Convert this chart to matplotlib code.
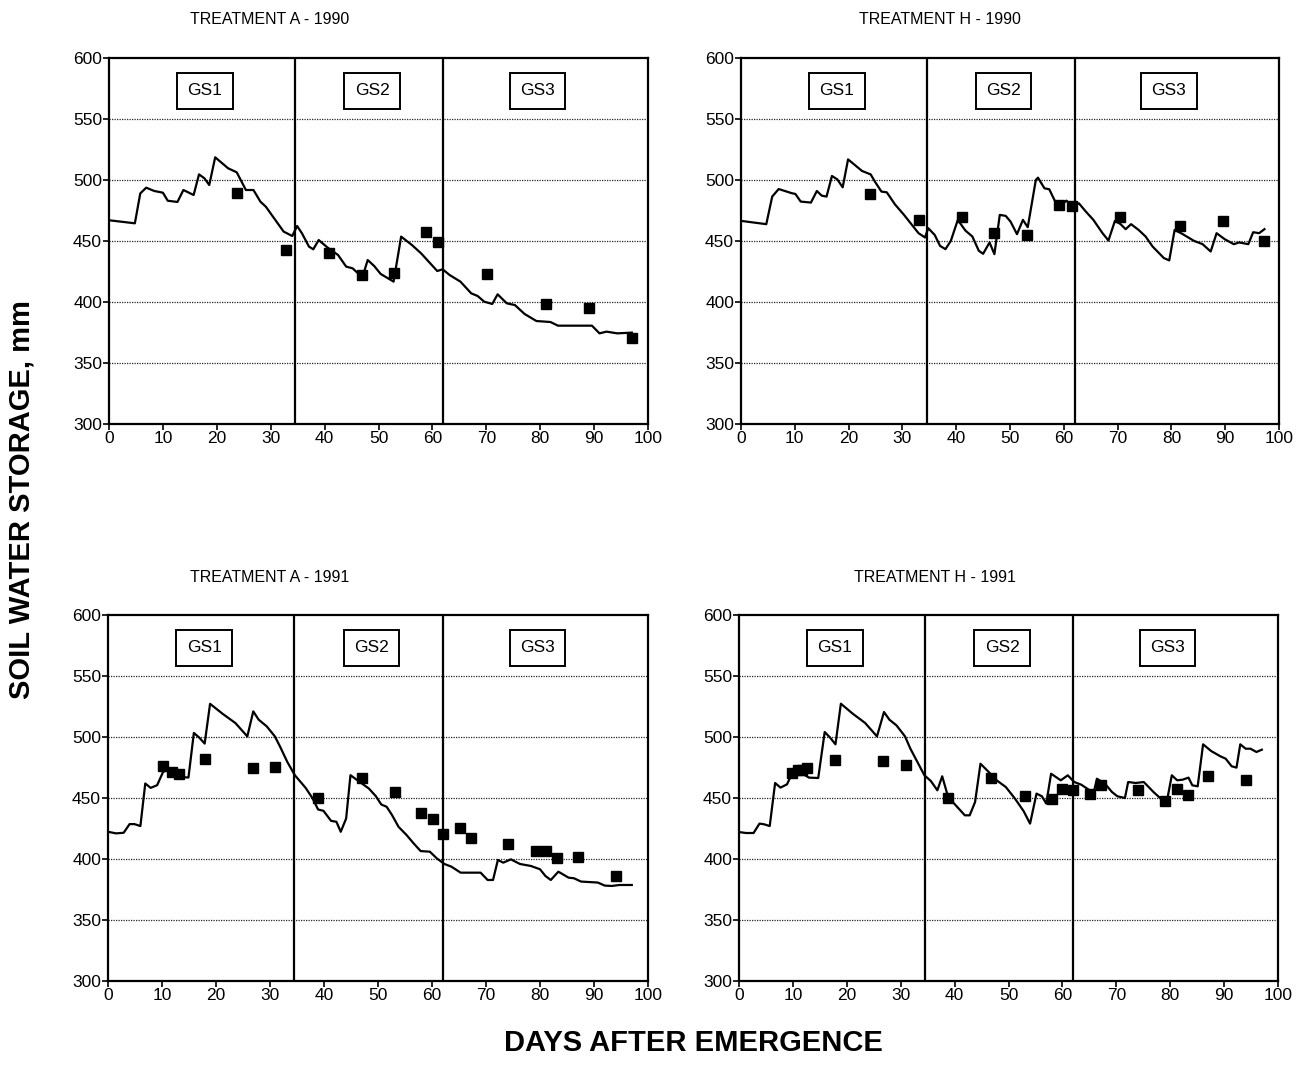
import matplotlib
matplotlib.use("Agg")
import matplotlib.pyplot as plt

plt.rcParams["font.family"] = ["Liberation Sans", "DejaVu Sans"]

# ---- data ---------------------------------------------------------------
# simulated soil water storage (line), treatment A 1990
a90_day = [0, 4.8, 5.8, 6.9, 8.4, 10.0, 10.9, 12.7, 13.8, 15.7, 16.7, 17.7, 18.6,
           19.7, 22.1, 23.7, 25.4, 26.8, 28.1, 29.1, 32.4, 34.0, 34.9, 35.8, 37.1,
           37.9, 38.9, 40.5, 42.5, 44.0, 45.2, 47.0, 48.0, 49.2, 50.4, 52.8, 54.2,
           56.2, 57.9, 60.9, 61.9, 63.2, 65.2, 67.2, 68.4, 69.6, 71.1, 72.1, 73.8,
           75.3, 77.1, 79.3, 81.9, 83.3, 89.6, 91.0, 92.3, 94.3, 97.0]
a90_sim = [467, 464.5, 489, 493.7, 491, 489.6, 483, 482, 491.8, 487.7, 504.6, 501.4,
           495.9, 518.6, 509.6, 506.3, 491.8, 491.8, 482.2, 478.1, 457.7, 454.1, 462.3,
           456.3, 445.4, 443.2, 450.8, 444.8, 438.5, 429, 427.6, 420.2, 434.4, 429.5,
           423, 416.7, 453.6, 446.7, 439.9, 425.4, 426.8, 422.1, 416.7, 407.1, 404.9,
           400.3, 398.4, 406.3, 398.9, 397.5, 390.2, 384.4, 383.6, 380.6, 380.6, 374.3,
           375.7, 374.3, 374.9]
a90_obs_day = [23.7, 32.8, 40.9, 47.0, 52.8, 58.9, 61.0, 70.1, 81.1, 89.1, 97.0]
a90_obs = [489.6, 442.6, 440.4, 422.1, 424.0, 457.4, 448.9, 423.0, 398.1, 395.4, 370.5]

# treatment H 1990
h90_day = [0, 4.7, 5.8, 7.0, 9.5, 10.1, 11.1, 13.0, 14.1, 15.0, 15.9, 16.9, 17.9,
           18.9, 19.9, 22.5, 24.1, 24.9, 26.1, 27.1, 28.6, 30.3, 33.0, 34.2, 34.8,
           36.0, 37.0, 38.0, 39.0, 40.3, 41.7, 43.0, 44.2, 45.0, 46.2, 47.1, 48.1,
           49.2, 50.1, 51.3, 52.4, 53.3, 54.8, 55.2, 56.4, 57.3, 58.4, 59.5, 60.5,
           61.5, 62.8, 64.1, 65.5, 67.2, 68.3, 69.5, 70.5, 71.5, 72.5, 73.9, 75.2,
           76.5, 78.6, 79.6, 80.6, 82.0, 84.2, 85.8, 87.3, 88.4, 89.9, 91.6, 92.6,
           94.3, 95.2, 96.3, 97.3]
h90_sim = [466.5, 463.8, 486.4, 492.6, 489.1, 488.6, 482.3, 481.5, 491, 487.2, 486.4,
           503.3, 500.5, 494, 516.9, 507.4, 504.6, 498.6, 490.5, 489.9, 480.1, 471.4,
           456.4, 452.9, 460.5, 455, 446, 443.3, 450.1, 467.3, 458.6, 453.7, 442, 439.5,
           448.8, 439.2, 471.4, 470.6, 465.9, 455.6, 467.3, 461.3, 500, 501.9, 493.2,
           492.4, 482.3, 479.6, 483.1, 478.2, 480.9, 474.1, 467.3, 456.4, 450.4, 466.5,
           464, 459.7, 463.8, 459.1, 453.7, 445.5, 436, 434.1, 459.1, 455.9, 450.1,
           447.4, 441.4, 456.4, 451.5, 447.4, 448.8, 447.4, 457.2, 456.4, 459.7]
h90_obs_day = [23.9, 33.0, 41.0, 47.1, 53.1, 59.1, 61.5, 70.5, 81.6, 89.5, 97.3]
h90_obs = [488.6, 467.3, 469.5, 456.4, 455.3, 479.6, 478.7, 470.0, 461.9, 466.0, 449.6]

# treatment A 1991
a91_day = [0, 1.5, 2.9, 4.0, 4.9, 6.0, 6.9, 7.9, 9.1, 10.2, 10.9, 11.9, 12.9, 14.9,
           15.9, 16.9, 17.9, 18.9, 21.2, 23.6, 25.8, 26.9, 27.9, 29.4, 30.9, 31.9,
           33.2, 34.6, 36.6, 37.9, 38.9, 39.9, 41.3, 42.3, 43.1, 44.1, 44.9, 46.6,
           48.3, 49.6, 50.6, 51.6, 52.6, 53.8, 55.3, 56.6, 57.9, 59.6, 60.9, 62.3,
           63.6, 65.3, 69.0, 70.3, 71.3, 72.2, 73.2, 74.6, 76.3, 78.3, 80.0, 81.0,
           82.0, 83.4, 85.3, 86.3, 87.6, 90.7, 92.0, 93.3, 94.7, 97.0]
a91_sim = [422.3, 421, 421.5, 428.6, 428.6, 427, 461.9, 458.3, 460.5, 471.4, 472.8, 470,
           467.3, 466.8, 503.3, 499.5, 494.6, 527.2, 519.1, 511.4, 500.5, 521, 514.2,
           508.7, 500.5, 491.8, 479.6, 468.7, 458.3, 449.6, 440.6, 439.5, 431.3, 430.5,
           422.3, 433.2, 468.7, 463.2, 457.8, 451.5, 444.7, 442.8, 436, 426.4, 419.6,
           412.8, 406.5, 406, 400.5, 395.9, 393.7, 388.8, 388.8, 382.8, 382.8, 399.2,
           397, 399.7, 395.9, 394.3, 391.6, 386.1, 382.8, 389.6, 384.7, 384.2, 381.5,
           380.7, 378.2, 377.9, 378.7, 378.7]
a91_obs_day = [10.2, 11.9, 13.1, 17.9, 26.9, 30.9, 38.9, 47.1, 53.1, 57.9, 60.1, 62.1,
               65.2, 67.2, 74.0, 79.2, 81.2, 83.2, 87.0, 94.0]
a91_obs = [476.0, 471.4, 469.5, 481.7, 474.7, 475.5, 450.1, 466.5, 455.0, 438.1, 432.7,
           420.4, 425.6, 416.9, 412.0, 406.8, 406.8, 400.5, 401.4, 386.1]

# treatment H 1991
h91_day = [0, 1.3, 2.7, 3.8, 4.7, 5.7, 6.7, 7.7, 8.9, 10.0, 10.7, 11.7, 13.0, 14.7,
           15.9, 16.9, 17.9, 18.9, 21.1, 23.4, 25.6, 26.9, 27.9, 29.2, 30.8, 31.8,
           33.1, 34.4, 35.6, 36.8, 37.7, 38.8, 40.5, 41.9, 42.8, 43.8, 44.8, 46.2,
           47.8, 49.5, 51.2, 52.8, 54.0, 55.2, 56.2, 57.0, 57.9, 59.7, 61.0, 62.2,
           63.5, 64.9, 65.8, 66.4, 67.9, 69.2, 70.2, 71.6, 72.2, 73.6, 75.1, 76.9,
           78.6, 79.3, 80.3, 81.3, 82.3, 83.4, 84.1, 85.1, 86.1, 87.6, 89.3, 90.3,
           91.4, 92.3, 93.0, 94.0, 94.9, 96.0, 97.0]
h91_sim = [422.1, 421.3, 421.3, 429, 428.4, 427, 462.3, 458.5, 461.2, 471.3, 472.7, 470,
           466.7, 466.4, 504.1, 499.5, 494, 527.3, 519.1, 511.5, 500.5, 520.5, 514.2,
           509.6, 500.5, 490.4, 479.5, 468.6, 463.9, 456.3, 467.8, 450.8, 442.6, 435.8,
           435.8, 446.7, 478.1, 471.9, 464.5, 459, 449.5, 439.3, 429, 453.6, 451.4,
           445.4, 469.9, 464.5, 468.6, 463.1, 460.9, 456.8, 454.1, 465.8, 461.7, 454.9,
           451.4, 450, 463.1, 462.3, 463.1, 454.9, 448.1, 445.4, 468.6, 464.5, 465,
           466.7, 460.4, 459.6, 494, 488.5, 484.2, 482.2, 476, 474.9, 494, 490.4, 490.4,
           487.7, 489.6]
h91_obs_day = [9.8, 11.0, 11.7, 12.7, 17.9, 26.8, 30.9, 38.8, 46.8, 53.0, 58.0, 59.9,
               61.9, 65.2, 67.2, 74.0, 79.1, 81.3, 83.3, 87.0, 94.1]
h91_obs = [470.5, 472.7, 472.7, 474.9, 480.9, 480.3, 476.8, 450.0, 466.4, 451.4, 449.5,
           457.7, 456.8, 453.6, 460.4, 456.3, 447.3, 457.7, 452.7, 468.0, 464.5]

titles = ["TREATMENT A - 1990", "TREATMENT H - 1990",
          "TREATMENT A - 1991", "TREATMENT H - 1991"]
stage_bounds = [34.5, 62]
stage_labels = ["GS1", "GS2", "GS3"]
stage_label_day = [17.8, 48.8, 79.5]

panels = [(a90_day, a90_sim, a90_obs_day, a90_obs),
          (h90_day, h90_sim, h90_obs_day, h90_obs),
          (a91_day, a91_sim, a91_obs_day, a91_obs),
          (h91_day, h91_sim, h91_obs_day, h91_obs)]

# ---- layout (fractions of a 1306x1084 canvas) ----------------------------
W, H = 1306, 1084
fig = plt.figure(figsize=(W / 100, H / 100), dpi=100)
boxes = [(109, 58, 648, 424), (741, 58, 1279, 424),
         (108, 615, 648, 981), (739, 615, 1278, 981)]
title_pos = [(270, 20), (940, 20), (270, 577), (935, 577)]

for i, (day, sim, oday, obs) in enumerate(panels):
    x0, y0, x1, y1 = boxes[i]
    ax = fig.add_axes([x0 / W, 1 - y1 / H, (x1 - x0) / W, (y1 - y0) / H])
    ax.plot(day, sim, color="black", lw=1.6)
    ax.plot(oday, obs, "s", color="black", ms=6.5, mec="black")
    for yv in range(350, 600, 50):
        ax.axhline(yv, color="0.15", lw=0.9, ls=(0, (1, 1)), zorder=0)
    for b in stage_bounds:
        ax.axvline(b, color="black", lw=1.6)
    for lab, d in zip(stage_labels, stage_label_day):
        ax.text(d, 573, lab, ha="center", va="center", fontsize=12.5,
                bbox=dict(boxstyle="square,pad=0.6", fc="white", ec="black", lw=1.4))
    ax.set_xlim(0, 100)
    ax.set_ylim(300, 600)
    ax.set_xticks(range(0, 101, 10))
    ax.set_yticks(range(300, 601, 50))
    ax.tick_params(direction="out", length=4, width=1.2, labelsize=12.5, pad=1)
    for sp in ax.spines.values():
        sp.set_linewidth(1.6)
    tx, ty = title_pos[i]
    fig.text(tx / W, 1 - ty / H, titles[i], ha="center", va="center", fontsize=11.5)

fig.text(22 / W, 1 - 500 / H, "SOIL WATER STORAGE, mm", rotation=90, ha="center",
         va="center", fontsize=21, fontweight="bold")
fig.text(693 / W, 1 - 1043 / H, "DAYS AFTER EMERGENCE", ha="center", va="center",
         fontsize=21, fontweight="bold")

fig.savefig("out.png", dpi=100)
